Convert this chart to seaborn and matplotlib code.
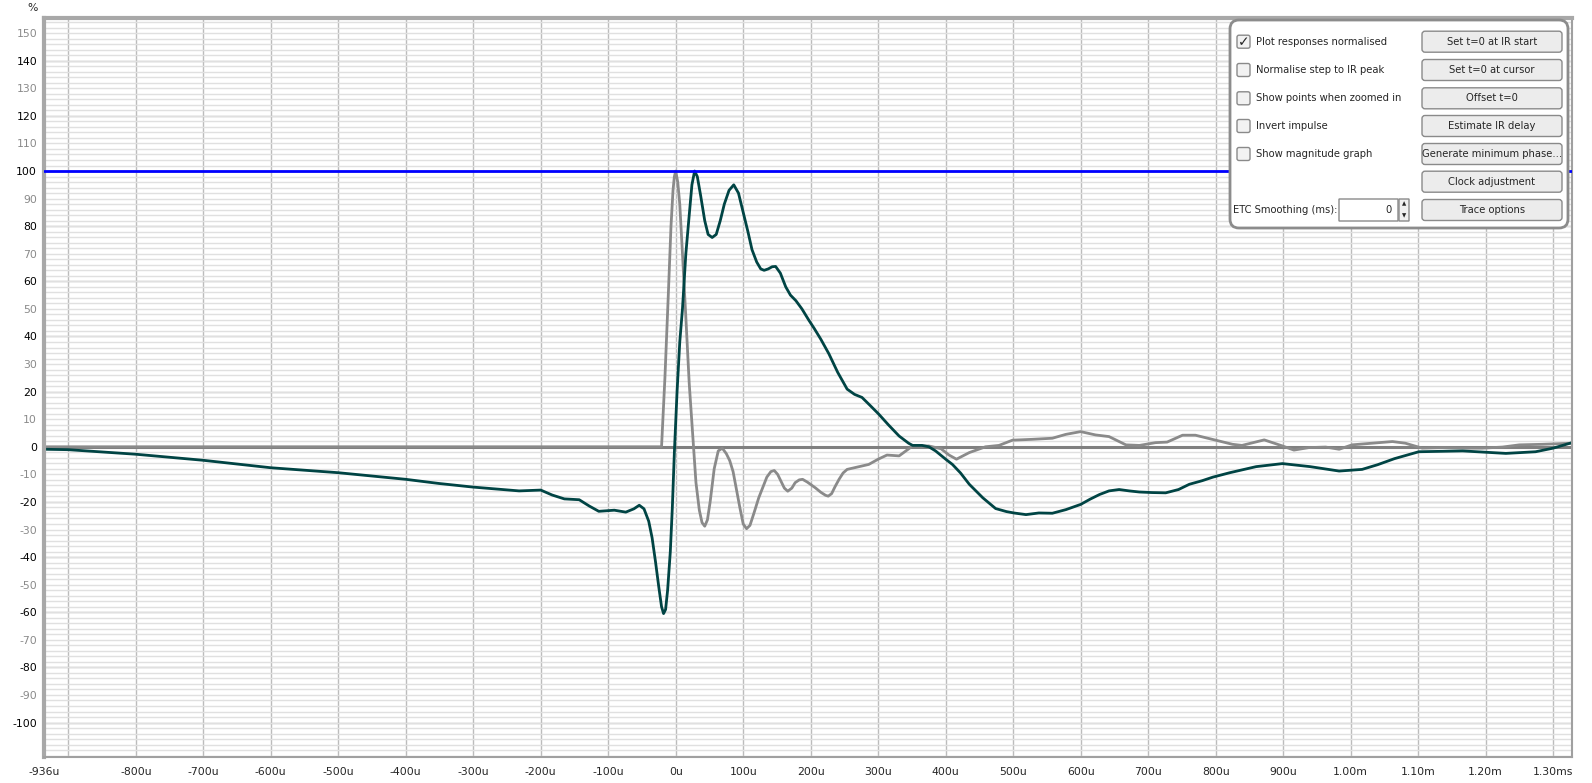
import numpy as np
import pandas as pd
import matplotlib.pyplot as plt
import seaborn as sns
from matplotlib.patches import FancyBboxPatch
from matplotlib.transforms import IdentityTransform

# time axis in microseconds, values in percent (normalised)
impulse_t = [-936, -21, -16, -11, -7, -4, -2, 0, 3, 6, 10, 15, 20, 25, 30, 35, 39, 43, 47, 51,
             57, 63, 69, 75, 80, 85, 95, 100, 105, 110, 116, 123, 135, 141, 146, 151, 156, 161,
             166, 172, 177, 183, 188, 195, 207, 215, 222, 226, 231, 236, 242, 248, 254, 270, 286,
             300, 313, 331, 351, 375, 393, 405, 416, 435, 459, 479, 499, 528, 558, 578, 600, 622,
             642, 667, 687, 711, 728, 751, 770, 795, 825, 839, 872, 899, 916, 938, 963, 983, 1002,
             1032, 1062, 1081, 1106, 1136, 1166, 1195, 1225, 1250, 1284, 1328]
impulse_v = [0, 0, 25, 55, 80, 93, 98, 100, 96, 88, 70, 47, 23, 5, -13, -23, -27.5, -28.8, -26.5, -20,
             -8, -1.5, -0.5, -2.5, -5, -9, -22, -28, -29.7, -28.5, -24, -18.5, -11, -9, -8.6, -10, -12.5, -15,
             -16.1, -15, -13, -12, -11.8, -12.8, -14.9, -16.5, -17.6, -17.9, -17, -14.5, -11.8, -9.5, -8.2, -7.3, -6.4,
             -4.5, -3, -3.3, 0.3, 0.3, -0.7, -3, -4.5, -2.1, 0, 0.5, 2.4, 2.7, 3.1, 4.5, 5.5, 4.3,
             3.7, 0.7, 0.5, 1.5, 1.7, 4.2, 4.2, 2.7, 0.9, 0.5, 2.5, 0.3, -1.2, -0.3, -0.1, -0.9, 0.7,
             1.3, 1.9, 1.3, -0.5, -0.3, -0.5, -0.5, -0.1, 0.7, 0.9, 1.3]

step_t = [-936, -900, -800, -700, -600, -500, -400, -351, -301, -232, -200, -183, -165, -143, -128,
          -114, -91, -74, -62, -54, -47, -40, -35, -30, -25, -21, -18, -15, -12, -8, -5, -2, 2, 6,
          10, 15, 20, 24, 28, 32, 37, 43, 48, 54, 60, 66, 72, 79, 86, 93, 100, 107, 113, 120, 126,
          131, 137, 143, 148, 155, 163, 170, 178, 187, 197, 205, 215, 227, 240, 254, 265, 276, 288,
          301, 315, 331, 345, 351, 365, 375, 385, 400, 410, 422, 435, 455, 474, 490, 501, 519, 538,
          558, 578, 600, 614, 628, 642, 657, 672, 687, 706, 726, 745, 761, 780, 796, 821, 860, 899,
          940, 983, 1017, 1040, 1065, 1101, 1166, 1230, 1274, 1300, 1328]
step_v = [-0.9, -1.05, -2.7, -4.9, -7.6, -9.4, -11.8, -13.3, -14.6, -16.0, -15.7, -17.5, -18.9, -19.2, -21.5,
          -23.4, -23.0, -23.7, -22.5, -21.2, -22.5, -27, -33, -41.6, -51, -58, -60.5, -59, -52, -38, -22, -2, 20, 38,
          50, 70, 84, 95, 100, 98, 91, 82, 77, 75.9, 77, 82, 88, 93, 95, 92, 85, 78, 71.5, 67, 64.5,
          64, 64.5, 65.3, 65.4, 63, 58, 55, 53, 50, 46, 43, 39, 33.7, 27, 20.9, 19, 17.9, 15,
          11.8, 8, 3.9, 1.3, 0.5, 0.5, 0, -1.5, -4.5, -6.4, -9.5, -13.6, -18.5, -22.4, -23.5, -24.0, -24.6, -24.0,
          -24.1, -22.8, -20.9, -19, -17.3, -16, -15.5, -16, -16.4, -16.6, -16.7, -15.5, -13.6, -12.3, -11, -9.4, -7.2, -6.1,
          -7.2, -8.8, -8.2, -6.5, -4.3, -1.8, -1.5, -2.4, -1.8, -0.5, 1.5]

x_ticks = [-936] + list(range(-900, 1301, 100))
x_labels = (['-936u', ''] + [f'{v}u' for v in range(-800, 1000, 100)]
            + ['1.00m', '1.10m', '1.20m', '1.30ms'])
y_ticks = list(range(-100, 151, 10))

check_labels = ['Plot responses normalised', 'Normalise step to IR peak',
                'Show points when zoomed in', 'Invert impulse', 'Show magnitude graph']
checked = [True, False, False, False, False]
button_labels = ['Set t=0 at IR start', 'Set t=0 at cursor', 'Offset t=0', 'Estimate IR delay',
                 'Generate minimum phase...', 'Clock adjustment', 'Trace options']

impulse_df = pd.DataFrame({'time': impulse_t, 'value': impulse_v})
step_df = pd.DataFrame({'time': step_t, 'value': step_v})

sns.set_style('white')
plt.rcParams['font.family'] = ['DejaVu Sans']

W, H = 1592, 783
fig = plt.figure(figsize=(W / 100, H / 100), dpi=100)
ax = fig.add_axes([44 / W, 1 - 757 / H, (1572 - 44) / W, (757 - 18) / H])

# grid
ax.set_yticks(y_ticks)
ax.set_yticks(np.arange(-112, 156, 2), minor=True)
ax.grid(which='minor', axis='y', color='#e0e0e0', lw=1, zorder=0)
ax.grid(which='major', axis='y', color='#e0e0e0', lw=1, zorder=0)
ax.grid(which='major', axis='x', color='#bcbcbc', lw=1, zorder=0)
ax.hlines(np.arange(-100, 151, 20), -1000, 1400, color='#bcbcbc', lw=1, zorder=0.5)
ax.set_axisbelow(True)

ax.axhline(0, color='#808080', lw=2.2, zorder=1.5)
sns.lineplot(data=impulse_df, x='time', y='value', color='#8a8a8a', lw=2, ax=ax,
             sort=False, estimator=None, zorder=2)
sns.lineplot(data=step_df, x='time', y='value', color='#004444', lw=2, ax=ax,
             sort=False, estimator=None, zorder=2.5)
ax.axhline(100, color='#0000ff', lw=2, zorder=3)

ax.set_xlim(-936, 1328)
ax.set_ylim(-112.5, 155.5)
ax.set_xticks(x_ticks)
ax.set_xticklabels(x_labels, fontsize=7.8)
ax.set_yticklabels([str(v) for v in y_ticks], fontsize=7.8)
for lab, v in zip(ax.get_yticklabels(), y_ticks):
    lab.set_color('#000000' if v % 20 == 0 else '#8a8a8a')
ax.tick_params(length=0, axis='x', pad=7)
ax.tick_params(length=0, axis='y', pad=5)
ax.set_xlabel('')
ax.set_ylabel('')
for side in ['left', 'top']:
    ax.spines[side].set_color('#a8a8a8')
    ax.spines[side].set_linewidth(3)
for side in ['right', 'bottom']:
    ax.spines[side].set_color('#a0a0a0')
    ax.spines[side].set_linewidth(1.5)

fig.text(33 / W, 1 - 8 / H, '%', fontsize=7.8, ha='center', va='center')

# options panel (pixel coords, y from top)
idt = IdentityTransform()


def box(x0, y0, x1, y1, fc, ec, lw=1, r=3, alpha=1.0, z=5):
    p = FancyBboxPatch((x0, H - y1), x1 - x0, y1 - y0,
                       boxstyle=f'round,pad=0,rounding_size={r}',
                       fc=fc, ec=ec, lw=lw, alpha=alpha, transform=idt, zorder=z)
    fig.add_artist(p)


def ptext(x, y, s, size=7.2, **kw):
    fig.text(x / W, 1 - y / H, s, va='center', fontsize=size, zorder=7, **kw)


box(1230, 20, 1568, 228, (1, 1, 1, 0.82), '#8c8c8c', lw=2, r=9, z=5)
rows = [41.7, 70, 98.3, 126, 154, 181.7, 210]
for cy, lab, on in zip(rows, check_labels, checked):
    box(1237, cy - 6.5, 1250, cy + 6.5, '#f2f2f2', '#8a8a8a', lw=1, r=2, z=6)
    if on:
        ptext(1243.5, cy, '\u2713', size=10, ha='center', fontweight='bold')
    ptext(1256, cy, lab)
for cy, lab in zip(rows, button_labels):
    box(1422, cy - 10.5, 1562, cy + 10.5, '#ececec', '#8a8a8a', lw=1, r=3, z=6)
    ptext(1492, cy, lab, ha='center')
ptext(1233, 210, 'ETC Smoothing (ms):')
box(1339, 199, 1398, 221, 'white', '#8a8a8a', lw=1, r=0, z=6)
ptext(1392, 210, '0', ha='right')
box(1399, 199, 1409, 221, '#f0f0f0', '#8a8a8a', lw=1, r=0, z=6)
ptext(1404, 204, '\u25b2', size=4, ha='center')
ptext(1404, 216, '\u25bc', size=4, ha='center')

fig.savefig('out.png', dpi=100)
